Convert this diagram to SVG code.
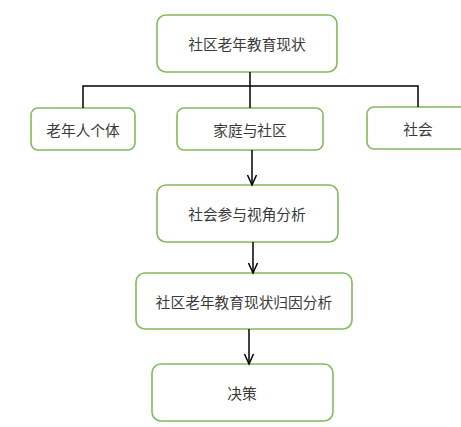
<svg xmlns="http://www.w3.org/2000/svg" width="461" height="427" viewBox="0 0 461 427">
<defs>
<style>
.box{fill:#fff;stroke:#82bb5a;stroke-width:1.6}
.t{font-family:"Noto Sans CJK SC","Liberation Sans",sans-serif;font-size:14.7px;fill:#3a3a3a;text-anchor:middle;dominant-baseline:central}
.c{fill:none;stroke:#000;stroke-width:1.5}
</style>
<marker id="arr" markerWidth="14" markerHeight="14" refX="11" refY="7" orient="auto" markerUnits="userSpaceOnUse" viewBox="0 0 14 14">
<path d="M1,2.5 L11,7 L1,11.5" fill="none" stroke="#000" stroke-width="1.5"/>
</marker>
</defs>
<rect width="461" height="427" fill="#fff"/>
<g id="n1"><rect class="box" x="157" y="15" width="180" height="57" rx="9"/><text class="t" x="247" y="43.5">社区老年教育现状</text></g>
<g id="n2"><rect class="box" x="31" y="108" width="104" height="42" rx="7"/><text class="t" x="83" y="129">老年人个体</text></g>
<g id="n3"><rect class="box" x="177" y="108" width="146" height="42" rx="7"/><text class="t" x="250" y="129">家庭与社区</text></g>
<g id="n4"><rect class="box" x="367" y="107" width="100" height="42" rx="7"/><text class="t" x="418" y="128">社会</text></g>
<g id="n5"><rect class="box" x="157" y="185" width="181" height="57" rx="9"/><text class="t" x="247" y="213.5">社会参与视角分析</text></g>
<g id="n6"><rect class="box" x="136" y="273" width="216" height="56" rx="9"/><text class="t" x="244" y="301">社区老年教育现状归因分析</text></g>
<g id="n7"><rect class="box" x="152" y="364" width="181" height="57" rx="9"/><text class="t" x="242" y="392.5">决策</text></g>
<g id="connectors">
<path class="c" d="M250,72 V108"/>
<path class="c" d="M83,108 V86 H418 V107"/>
<path class="c" d="M252,150 V185" marker-end="url(#arr)"/>
<path class="c" d="M253,242 V273" marker-end="url(#arr)"/>
<path class="c" d="M249,329 V364" marker-end="url(#arr)"/>
</g>
</svg>
